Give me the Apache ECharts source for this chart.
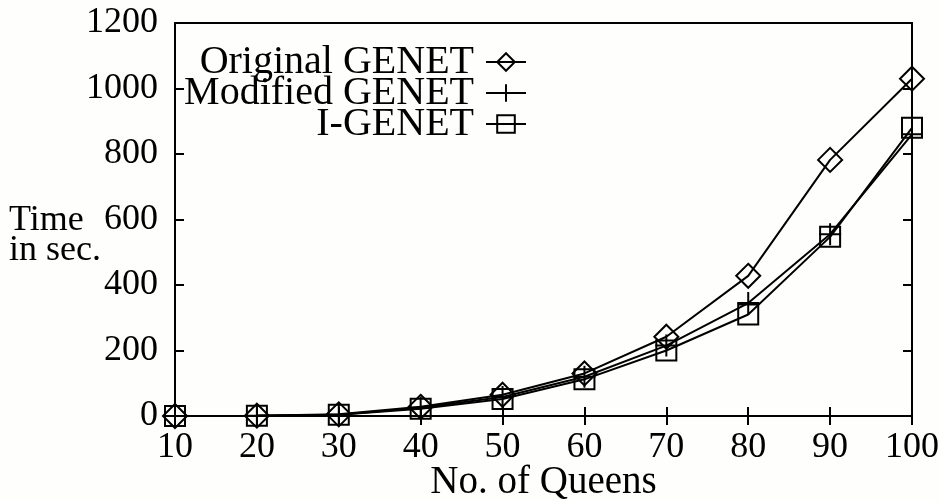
<!DOCTYPE html>
<html>
<head>
<meta charset="utf-8">
<script src="https://cdn.jsdelivr.net/npm/echarts@6/dist/echarts.min.js"></script>
<style>
html,body{margin:0;padding:0;background:#fefefc;}
#c{width:940px;height:501px;}
</style>
</head>
<body>
<div id="c"></div>
<script>
var queens = [10, 20, 30, 40, 50, 60, 70, 80, 90, 100];
var originalGenet = [0, 1, 5, 28, 65, 130, 242, 428, 782, 1030];
var modifiedGenet = [0, 1, 4, 25, 58, 120, 215, 345, 555, 860];
var iGenet = [0, 1, 4, 22, 52, 112, 200, 310, 547, 880];
var seriesNames = ['Original GENET', 'Modified GENET', 'I-GENET'];

function pairs(xs, ys) { return xs.map(function (x, i) { return [x, ys[i]]; }); }

var FONT = 'Liberation Serif';
var chart = echarts.init(document.getElementById('c'));
var symDiamond = 'path://M0,-1L1,0L0,1L-1,0Z';
var symPlus = 'path://M0,-1L0,1M-1,0L1,0';
var symSquare = 'path://M-1,-1L1,-1L1,1L-1,1Z';

function mkSeries(name, data, sym, size) {
  return {
    name: name, type: 'line', data: pairs(queens, data),
    symbol: sym, symbolSize: size, showSymbol: true,
    lineStyle: { color: '#000', width: 2 },
    itemStyle: { color: 'rgba(0,0,0,0)', borderColor: '#000', borderWidth: 2 },
    emphasis: { disabled: true },
    animation: false
  };
}
var tickStyle = { show: true, inside: true, length: 9, lineStyle: { color: '#000', width: 2 } };

chart.setOption({
  backgroundColor: '#fefefc',
  animation: false,
  grid: { left: 175, right: 28, top: 23, bottom: 85, outerBoundsMode: 'none', containLabel: false,
          show: true, borderColor: '#000', borderWidth: 2, backgroundColor: 'transparent' },
  legend: {
    orient: 'vertical', right: 408, top: 37, align: 'right',
    itemWidth: 40, itemHeight: 22, itemGap: -9,
    textStyle: { fontFamily: FONT, fontSize: 40, color: '#000', padding: [0, 7, 0, 0] },
    data: seriesNames
  },
  xAxis: [{
    type: 'value', min: 10, max: 100, interval: 10,
    axisLine: { show: false }, splitLine: { show: false },
    axisTick: tickStyle,
    axisLabel: { fontFamily: FONT, fontSize: 36, color: '#000', margin: 14 },
    name: 'No. of Queens', nameLocation: 'middle', nameGap: 47, nameMoveOverlap: false,
    nameTextStyle: { fontFamily: FONT, fontSize: 39, color: '#000' }
  }, {
    type: 'value', position: 'top', min: 10, max: 100, interval: 10,
    axisLine: { show: false }, splitLine: { show: false }, axisLabel: { show: false },
    axisTick: tickStyle
  }],
  yAxis: [{
    type: 'value', min: 0, max: 1200, interval: 200,
    axisLine: { show: false }, splitLine: { show: false },
    axisTick: tickStyle,
    axisLabel: { fontFamily: FONT, fontSize: 36, color: '#000', margin: 17,
                 formatter: function (v) { return String(v); } }
  }, {
    type: 'value', position: 'right', min: 0, max: 1200, interval: 200,
    axisLine: { show: false }, splitLine: { show: false }, axisLabel: { show: false },
    axisTick: tickStyle
  }],
  graphic: [{
    type: 'text', left: 9, top: 203,
    style: { text: 'Time\nin sec.', fontFamily: FONT, fontSize: 36, lineHeight: 30, fill: '#000' }
  }],
  series: [
    mkSeries(seriesNames[0], originalGenet, symDiamond, 24),
    mkSeries(seriesNames[1], modifiedGenet, symPlus, 22),
    mkSeries(seriesNames[2], iGenet, symSquare, 20)
  ]
});
</script>
</body>
</html>
